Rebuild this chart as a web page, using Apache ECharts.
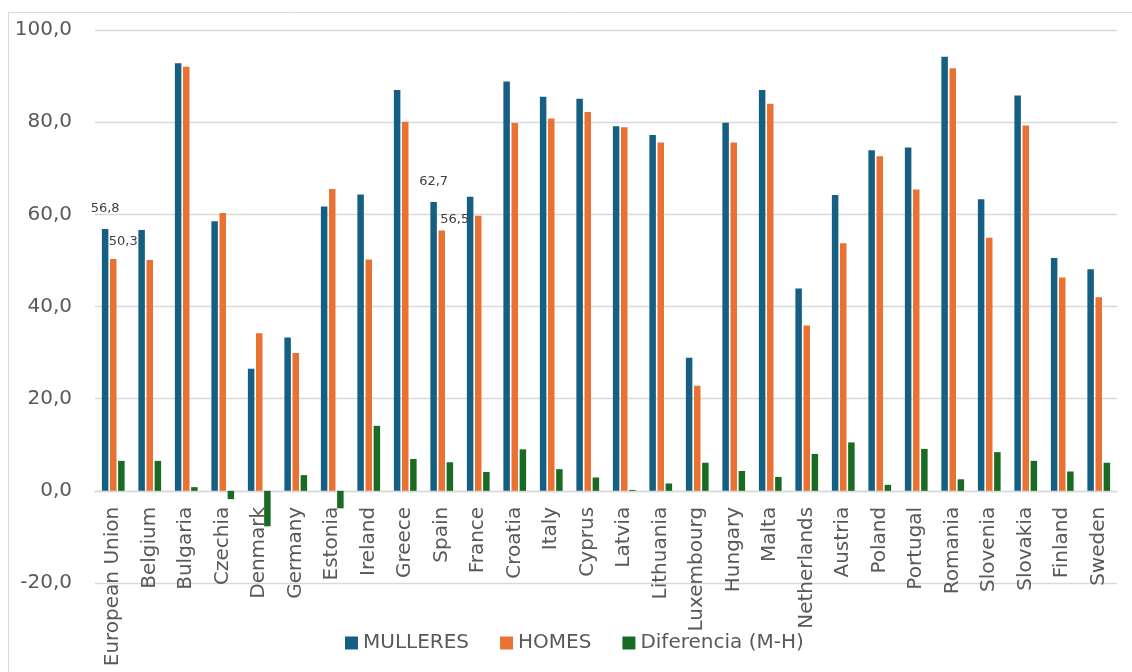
<!DOCTYPE html>
<html>
<head>
<meta charset="utf-8">
<script src="https://cdn.jsdelivr.net/npm/echarts@6/dist/echarts.min.js"></script>
<style>
  html, body { margin: 0; padding: 0; background: #fff; }
  #chart { width: 1132px; height: 672px; }
</style>
</head>
<body>
<div id="chart"></div>
<script>
const countries = [
  'European Union', 'Belgium', 'Bulgaria', 'Czechia', 'Denmark', 'Germany', 'Estonia',
  'Ireland', 'Greece', 'Spain', 'France', 'Croatia', 'Italy', 'Cyprus', 'Latvia',
  'Lithuania', 'Luxembourg', 'Hungary', 'Malta', 'Netherlands', 'Austria', 'Poland',
  'Portugal', 'Romania', 'Slovenia', 'Slovakia', 'Finland', 'Sweden'
];
const mulleres = [
  56.8, 56.6, 92.8, 58.5, 26.5, 33.3, 61.7,
  64.3, 87.0, 62.7, 63.8, 88.8, 85.5, 85.1, 79.1,
  77.2, 28.9, 79.9, 87.0, 43.9, 64.2, 73.9,
  74.5, 94.2, 63.3, 85.8, 50.5, 48.1
];
const homes = [
  50.3, 50.1, 92.0, 60.3, 34.2, 29.9, 65.5,
  50.2, 80.1, 56.5, 59.7, 79.8, 80.8, 82.2, 78.9,
  75.6, 22.8, 75.6, 84.0, 35.9, 53.7, 72.6,
  65.4, 91.7, 54.9, 79.3, 46.3, 42.0
];
const diferencia = [
  6.5, 6.5, 0.8, -1.8, -7.7, 3.4, -3.8,
  14.1, 6.9, 6.2, 4.1, 9.0, 4.7, 2.9, 0.2,
  1.6, 6.1, 4.3, 3.0, 8.0, 10.5, 1.3,
  9.1, 2.5, 8.4, 6.5, 4.2, 6.1
];
const yTicks = { min: -20, max: 100, step: 20 };

// which bars carry a value label, and where the label sits
const labelSpots = {
  MULLERES: { 0: [0, -14], 9: [0, -14] },
  HOMES: { 0: [10, -11], 9: [13, -4] }
};

const FONT = '"DejaVu Sans", sans-serif';
const fmt = v => v.toFixed(1).replace('.', ',');

const GRID = { left: 95, right: 15, top: 30, bottom: 89 };
// category labels hang from the zero line, not from the bottom of the plot
const plotH = 672 - GRID.top - GRID.bottom;
const zeroShift = plotH * (0 - yTicks.min) / (yTicks.max - yTicks.min);

function barData(values, name) {
  const spots = labelSpots[name] || {};
  return values.map((v, i) => {
    if (!spots[i]) return v;
    return {
      value: v,
      label: {
        show: true,
        position: 'top',
        distance: 0,
        offset: spots[i],
        formatter: p => fmt(p.value),
        color: '#404040',
        fontSize: 13,
        fontFamily: FONT
      }
    };
  });
}

function barSeries(name, values, color) {
  return {
    name: name,
    type: 'bar',
    data: barData(values, name),
    barWidth: 6.5,
    barGap: '25%',
    itemStyle: { color: color },
    emphasis: { disabled: true }
  };
}

const chart = echarts.init(document.getElementById('chart'), null, { renderer: 'canvas' });

chart.setOption({
  animation: false,
  backgroundColor: '#ffffff',
  graphic: [{
    type: 'rect',
    shape: { x: 8.5, y: 12.5, width: 1200, height: 800 },
    style: { fill: 'none', stroke: '#d9d9d9', lineWidth: 1 },
    silent: true
  }],
  grid: Object.assign({ outerBoundsMode: 'none', containLabel: false }, GRID),
  legend: {
    left: 340,
    top: 628,
    itemWidth: 13,
    itemHeight: 13,
    itemGap: 31,
    icon: 'rect',
    textStyle: { color: '#595959', fontSize: 20, fontFamily: FONT, padding: [0, 0, 0, 0] },
    data: ['MULLERES', 'HOMES', 'Diferencia (M-H)']
  },
  xAxis: {
    type: 'category',
    data: countries,
    offset: -zeroShift,
    axisLine: { onZero: false, lineStyle: { color: '#d9d9d9', width: 1.3 } },
    axisTick: { show: false },
    axisLabel: {
      interval: 0,
      rotate: 90,
      margin: 16,
      color: '#595959',
      fontSize: 20,
      fontFamily: FONT
    }
  },
  yAxis: {
    type: 'value',
    min: yTicks.min,
    max: yTicks.max,
    interval: yTicks.step,
    axisLine: { show: false },
    axisTick: { show: false },
    splitLine: { lineStyle: { color: '#d9d9d9', width: 1.3 } },
    axisLabel: {
      formatter: fmt,
      margin: 23,
      color: '#595959',
      fontSize: 20,
      fontFamily: FONT
    }
  },
  series: [
    barSeries('MULLERES', mulleres, '#156082'),
    barSeries('HOMES', homes, '#E97132'),
    barSeries('Diferencia (M-H)', diferencia, '#196B24')
  ]
});
</script>
</body>
</html>
